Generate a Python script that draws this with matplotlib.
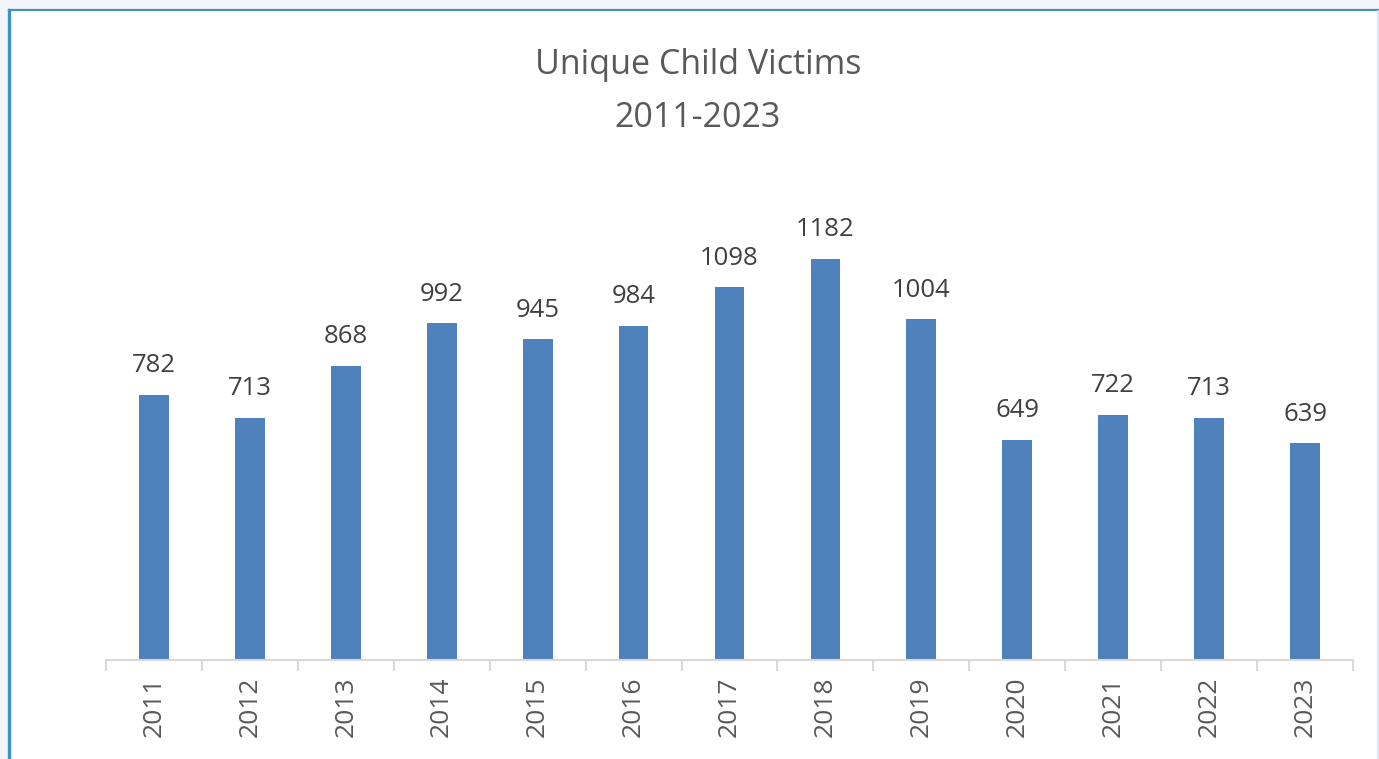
import matplotlib
import matplotlib.pyplot as plt
from matplotlib.patches import Rectangle
from matplotlib.lines import Line2D

matplotlib.use("Agg")

years = ["2011", "2012", "2013", "2014", "2015", "2016", "2017",
         "2018", "2019", "2020", "2021", "2022", "2023"]
victims = [782, 713, 868, 992, 945, 984, 1098, 1182, 1004, 649, 722, 713, 639]

W, H = 1379, 759
BAR = "#4f81bd"
TEXT = "#595959"
FONT = ["Open Sans", "DejaVu Sans"]

plt.rcParams["font.family"] = FONT

fig = plt.figure(figsize=(W / 100, H / 100), dpi=100, facecolor="#f2f5fa")

# white chart panel with blue left/top border
fig.patches.append(Rectangle((8 / W, 0), 1369 / W, (H - 10) / H,
                             transform=fig.transFigure, facecolor="white",
                             edgecolor="none", zorder=-2))
fig.lines.append(Line2D([8.5 / W, 8.5 / W], [0, (H - 9.5) / H], transform=fig.transFigure,
                        color="#3a95c4", linewidth=2.4, zorder=-1))
fig.lines.append(Line2D([8.5 / W, 1], [(H - 10) / H, (H - 10) / H], transform=fig.transFigure,
                        color="#4a90bf", linewidth=1.6, zorder=-1))
fig.lines.append(Line2D([1377.5 / W, 1377.5 / W], [0, (H - 11) / H], transform=fig.transFigure,
                        color="#d6e6f2", linewidth=1.2, zorder=-1))

ax = fig.add_axes([106 / W, (H - 660) / H, (1353 - 106) / W, (660 - 185) / H])
ax.set_facecolor("none")
ax.set_zorder(2)

x = range(len(years))
ax.bar(x, victims, width=0.31, color=BAR, zorder=2)
ax.set_xlim(-0.5, len(years) - 0.5)
ax.set_ylim(0, 1400)

for xi, v in zip(x, victims):
    ax.annotate(str(v), (xi, v), xytext=(0, 12), textcoords="offset points",
                ha="center", va="bottom", fontsize=18.5, color="#404040")

for side in ["top", "right", "left"]:
    ax.spines[side].set_visible(False)
ax.spines["bottom"].set_color("#d9d9d9")
ax.spines["bottom"].set_linewidth(1.5)
ax.set_yticks([])

ax.set_xticks([i - 0.5 for i in range(len(years) + 1)], minor=False)
ax.set_xticklabels([])
ax.tick_params(axis="x", which="major", length=8, width=1.5, color="#d9d9d9")
ax.set_xticks(list(x), minor=True)
ax.set_xticklabels(years, minor=True, rotation=90, fontsize=19, color=TEXT)
ax.tick_params(axis="x", which="minor", length=0, pad=12)

fig.text(698 / W, 1 - 65 / H, "Unique Child Victims", ha="center", va="center",
         fontsize=24.5, color=TEXT)
fig.text(698 / W, 1 - 118 / H, "2011-2023", ha="center", va="center",
         fontsize=24.5, color=TEXT)

fig.savefig("out.png", dpi=100, facecolor=fig.get_facecolor())
